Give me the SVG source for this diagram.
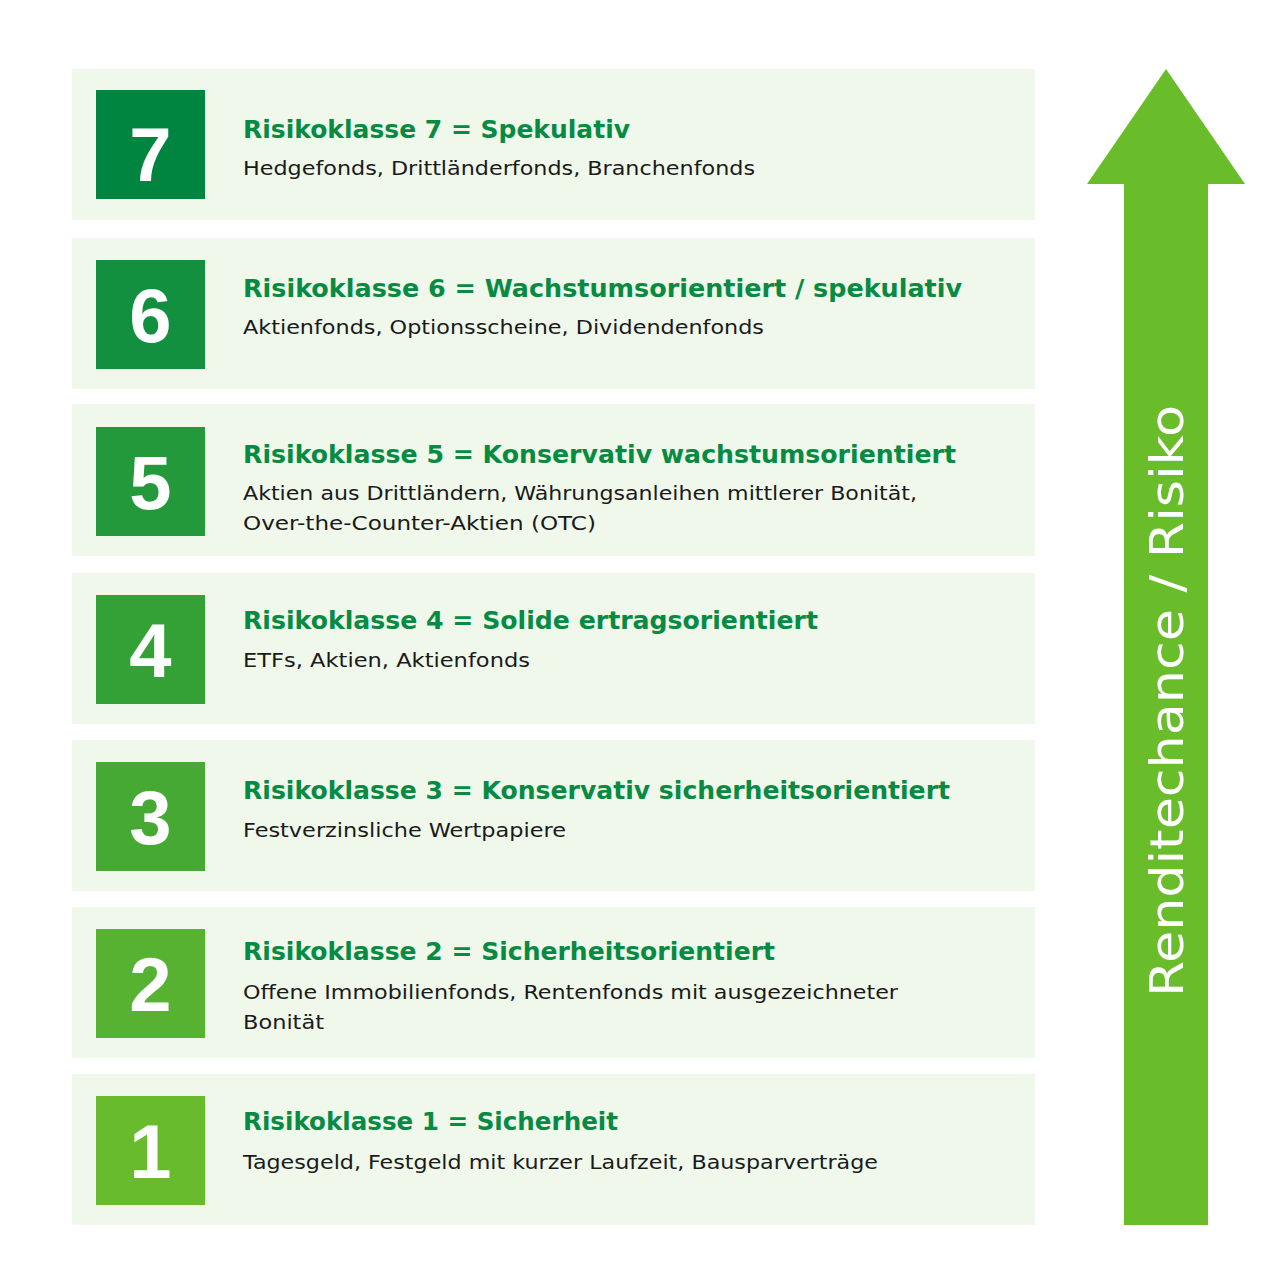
<svg xmlns="http://www.w3.org/2000/svg" width="1280" height="1280" viewBox="0 0 1280 1280">
<style>
.panel{fill:#eff8ea}
.num{font-family:"Liberation Sans",Arial,sans-serif;font-weight:bold;font-size:76px;fill:#ffffff;text-anchor:middle}
.title{font-family:"DejaVu Sans","Liberation Sans",sans-serif;font-weight:bold;font-size:25px;fill:#078a42}
.sub{font-family:"DejaVu Sans","Liberation Sans",sans-serif;font-size:19px;fill:#1a1a1a}
.arrowtxt{font-family:"DejaVu Sans","Liberation Sans",sans-serif;font-size:46px;fill:#ffffff;text-anchor:middle}
</style>
<rect width="1280" height="1280" fill="#ffffff"/>
<g id="row7">
<rect class="panel" x="72" y="69" width="963" height="151"/>
<rect x="96" y="90" width="109" height="109" fill="#008540"/>
<text class="num" x="150.5" y="181">7</text>
<text class="title" x="243" y="138" textLength="387" lengthAdjust="spacingAndGlyphs">Risikoklasse 7 = Spekulativ</text>
<text class="sub" x="243" y="175" textLength="512" lengthAdjust="spacingAndGlyphs">Hedgefonds, Drittländerfonds, Branchenfonds</text>
</g>
<g id="row6">
<rect class="panel" x="72" y="238" width="963" height="151"/>
<rect x="96" y="260" width="109" height="109" fill="#13903f"/>
<text class="num" x="150.5" y="342">6</text>
<text class="title" x="243" y="297" textLength="719" lengthAdjust="spacingAndGlyphs">Risikoklasse 6 = Wachstumsorientiert / spekulativ</text>
<text class="sub" x="243" y="334" textLength="521" lengthAdjust="spacingAndGlyphs">Aktienfonds, Optionsscheine, Dividendenfonds</text>
</g>
<g id="row5">
<rect class="panel" x="72" y="404" width="963" height="152"/>
<rect x="96" y="427" width="109" height="109" fill="#23993b"/>
<text class="num" x="150.5" y="509">5</text>
<text class="title" x="243" y="463" textLength="713" lengthAdjust="spacingAndGlyphs">Risikoklasse 5 = Konservativ wachstumsorientiert</text>
<text class="sub" x="243" y="500" textLength="674" lengthAdjust="spacingAndGlyphs">Aktien aus Drittländern, Währungsanleihen mittlerer Bonität,</text>
<text class="sub" x="243" y="530" textLength="353" lengthAdjust="spacingAndGlyphs">Over-the-Counter-Aktien (OTC)</text>
</g>
<g id="row4">
<rect class="panel" x="72" y="573" width="963" height="151"/>
<rect x="96" y="595" width="109" height="109" fill="#34a137"/>
<text class="num" x="150.5" y="677">4</text>
<text class="title" x="243" y="629" textLength="575" lengthAdjust="spacingAndGlyphs">Risikoklasse 4 = Solide ertragsorientiert</text>
<text class="sub" x="243" y="667" textLength="287" lengthAdjust="spacingAndGlyphs">ETFs, Aktien, Aktienfonds</text>
</g>
<g id="row3">
<rect class="panel" x="72" y="740" width="963" height="151"/>
<rect x="96" y="762" width="109" height="109" fill="#45a934"/>
<text class="num" x="150.5" y="844">3</text>
<text class="title" x="243" y="799" textLength="707" lengthAdjust="spacingAndGlyphs">Risikoklasse 3 = Konservativ sicherheitsorientiert</text>
<text class="sub" x="243" y="837" textLength="323" lengthAdjust="spacingAndGlyphs">Festverzinsliche Wertpapiere</text>
</g>
<g id="row2">
<rect class="panel" x="72" y="907" width="963" height="151"/>
<rect x="96" y="929" width="109" height="109" fill="#56b230"/>
<text class="num" x="150.5" y="1011">2</text>
<text class="title" x="243" y="960" textLength="532" lengthAdjust="spacingAndGlyphs">Risikoklasse 2 = Sicherheitsorientiert</text>
<text class="sub" x="243" y="999" textLength="655" lengthAdjust="spacingAndGlyphs">Offene Immobilienfonds, Rentenfonds mit ausgezeichneter</text>
<text class="sub" x="243" y="1029" textLength="81" lengthAdjust="spacingAndGlyphs">Bonität</text>
</g>
<g id="row1">
<rect class="panel" x="72" y="1074" width="963" height="151"/>
<rect x="96" y="1096" width="109" height="109" fill="#67bb2c"/>
<text class="num" x="150.5" y="1178">1</text>
<text class="title" x="243" y="1130" textLength="375" lengthAdjust="spacingAndGlyphs">Risikoklasse 1 = Sicherheit</text>
<text class="sub" x="243" y="1169" textLength="635" lengthAdjust="spacingAndGlyphs">Tagesgeld, Festgeld mit kurzer Laufzeit, Bausparverträge</text>
</g>
<g id="arrow">
<polygon points="1166,69 1245,184 1208,184 1208,1225 1124,1225 1124,184 1087,184" fill="#6abd2a"/>
<text class="arrowtxt" transform="translate(1183,701) rotate(-90)" x="0" y="0" textLength="592" lengthAdjust="spacingAndGlyphs">Renditechance / Risiko</text>
</g>
</svg>
